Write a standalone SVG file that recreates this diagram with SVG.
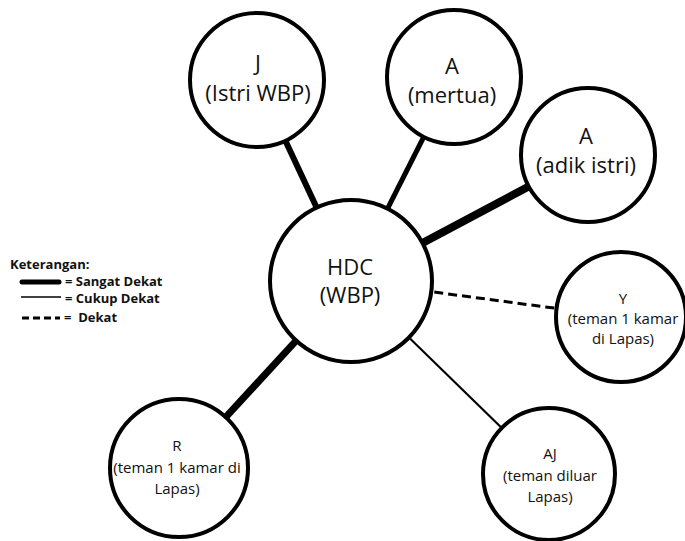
<svg xmlns="http://www.w3.org/2000/svg" width="685" height="541" viewBox="0 0 685 541">
<style>
.node circle{fill:#fff;stroke:#000;stroke-width:4}
.big{font-family:"Open Sans","Noto Sans",sans-serif;font-size:22px;fill:#111;text-anchor:middle}
.small{font-family:"Open Sans","Noto Sans",sans-serif;font-size:15px;fill:#111;text-anchor:middle}
.leg{font-family:"Open Sans","Noto Sans",sans-serif;font-size:13px;font-weight:bold;fill:#111;white-space:pre}
.conn line{stroke:#000;fill:none}
</style>
<rect width="685" height="541" fill="#fff"/>
<g id="connectors" class="conn">
<line x1="257" y1="80" x2="351" y2="281" stroke-width="6"/>
<line x1="454" y1="77" x2="351" y2="281" stroke-width="5"/>
<line x1="588" y1="155" x2="351" y2="281" stroke-width="8"/>
<line x1="351" y1="281" x2="621" y2="317" stroke-width="3" stroke-dasharray="9,5"/>
<line x1="179" y1="468" x2="351" y2="281" stroke-width="7"/>
<line x1="549" y1="474" x2="351" y2="281" stroke-width="2"/>
</g>
<g id="node-J" class="node">
<circle cx="257" cy="80" r="67"/>
<text class="big" x="258" y="71">J</text>
<text class="big" x="258" y="101">(Istri WBP)</text>
</g>
<g id="node-mertua" class="node">
<circle cx="454" cy="77" r="67"/>
<text class="big" x="452" y="74">A</text>
<text class="big" x="452" y="103">(mertua)</text>
</g>
<g id="node-adik" class="node">
<circle cx="588" cy="155" r="67"/>
<text class="big" x="586" y="144">A</text>
<text class="big" x="586" y="173">(adik istri)</text>
</g>
<g id="node-HDC" class="node">
<circle cx="351" cy="281" r="81"/>
<text class="big" x="350" y="275">HDC</text>
<text class="big" x="350" y="303">(WBP)</text>
</g>
<g id="node-Y" class="node">
<circle cx="621" cy="317" r="65"/>
<text class="small" x="623" y="304">Y</text>
<text class="small" x="623" y="324">(teman 1 kamar</text>
<text class="small" x="623" y="344">di Lapas)</text>
</g>
<g id="node-R" class="node">
<circle cx="179" cy="468" r="69"/>
<text class="small" x="177" y="451">R</text>
<text class="small" x="177" y="473">(teman 1 kamar di</text>
<text class="small" x="177" y="494">Lapas)</text>
</g>
<g id="node-AJ" class="node">
<circle cx="549" cy="474" r="66"/>
<text class="small" x="550" y="459">AJ</text>
<text class="small" x="550" y="481">(teman diluar</text>
<text class="small" x="550" y="502">Lapas)</text>
</g>
<g id="legend">
<text class="leg" x="10" y="269">Keterangan:</text>
<line x1="22" y1="282" x2="59" y2="282" stroke="#000" stroke-width="5" stroke-linecap="round"/>
<text class="leg" x="65" y="286">= Sangat Dekat</text>
<line x1="21" y1="297" x2="61" y2="297" stroke="#000" stroke-width="1.5"/>
<text class="leg" x="65" y="303">= Cukup Dekat</text>
<line x1="22" y1="318" x2="60" y2="318" stroke="#000" stroke-width="3" stroke-dasharray="7,4"/>
<text class="leg" x="64" y="322" xml:space="preserve">=  Dekat</text>
</g>
</svg>
